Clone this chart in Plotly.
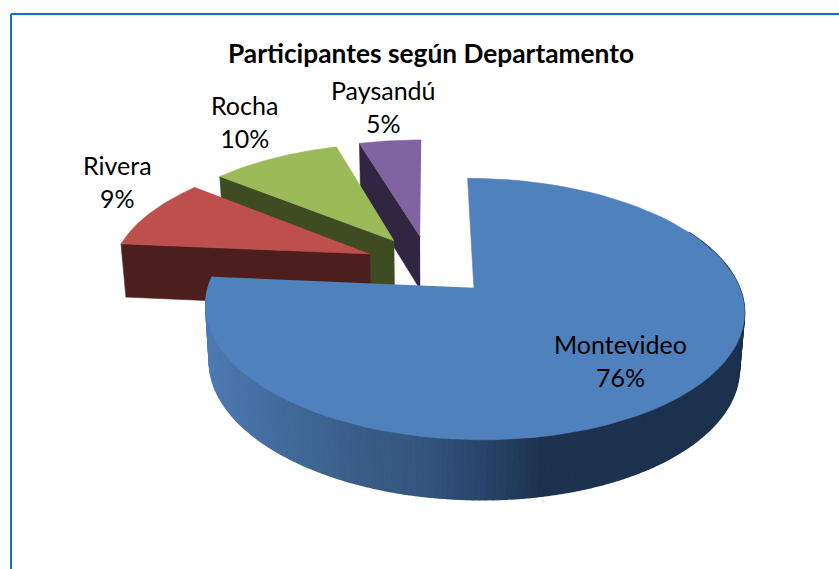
import numpy as np
import plotly.graph_objects as go

title_text = "Participantes según Departamento"
departments = ["Montevideo", "Rivera", "Rocha", "Paysandú"]
shares = [76.4, 9.4, 9.6, 4.6]
top_colors = ["#4F81BD", "#BD4F4C", "#9BBB59", "#8064A2"]
wall_colors = ["#1E3350", "#4C1F1E", "#3F4C22", "#312642"]
label_xy = [(620, 360), (117, 181), (244, 121), (383, 106)]

CX, CY, RX, RY, K, EXPLODE, DEPTH, CONVERGE = 429, 265, 258, 120, 0.158, 0.25, 54, 0.016
grad_x = [208, 280, 340, 420, 480, 540, 745]
grad_rgb = [(78, 122, 178), (66, 108, 156), (60, 96, 140), (52, 86, 126), (42, 70, 108), (30, 51, 80), (28, 49, 78)]


def project(wx, wy, low=False):
    s = 1 / (1 - K * wy)
    x = CX + RX * wx * s
    y = CY + RY * wy * s
    if low:
        x = CX + (x - CX) * (1 - CONVERGE)
        y = y + DEPTH * np.sqrt(s)
    return x, y


def world_rim(a0, a1, mid, n=80):
    t = np.radians(np.linspace(a0, a1, n))
    m = np.radians(mid)
    return np.sin(t) + EXPLODE * np.sin(m), -np.cos(t) - EXPLODE * np.cos(m)


def poly(fig, xs, ys, color, lw=0.6):
    fig.add_trace(go.Scatter(x=xs, y=ys, mode="lines", fill="toself", fillcolor=color,
                             line=dict(color=color, width=lw), hoverinfo="skip", showlegend=False))


fig = go.Figure()
total = sum(shares)
edges = np.concatenate([[0], np.cumsum(shares)]) * 360 / total
order = [3, 2, 1, 0]

for i in order:
    a0, a1 = edges[i], edges[i + 1]
    mid = (a0 + a1) / 2
    ax, ay = EXPLODE * np.sin(np.radians(mid)), -EXPLODE * np.cos(np.radians(mid))
    wx, wy = world_rim(a0, a1, mid)
    if i > 0:
        # visible cut face: the radial edge at the slice's starting angle
        ex, ey = world_rim(a0, a0, mid, 2)
        wall_w = np.array([ax, ex[0]])
        wall_h = np.array([ay, ey[0]])
        tx, ty = project(wall_w, wall_h)
        bx, by = project(wall_w, wall_h, low=True)
        poly(fig, list(tx) + list(bx[::-1]), list(ty) + list(by[::-1]), wall_colors[i])
    else:
        # curved outer wall shaded left to right
        vis0, vis1 = 62, a1
        steps = np.linspace(vis0, vis1, 181)
        for s0, s1 in zip(steps[:-1], steps[1:]):
            qx, qy = world_rim(s0, s1, mid, 4)
            tx, ty = project(qx, qy)
            bx, by = project(qx, qy, low=True)
            mx = float(np.mean(tx))
            rgb = [np.interp(mx, grad_x, [c[j] for c in grad_rgb]) for j in range(3)]
            col = "rgb(%d,%d,%d)" % tuple(rgb)
            poly(fig, list(tx) + list(bx[::-1]), list(ty) + list(by[::-1]), col, lw=1.5)
    px, py = project(np.concatenate([[ax], wx]), np.concatenate([[ay], wy]))
    poly(fig, list(px), list(py), top_colors[i])

annotations = [dict(x=431, y=53, text="<b>%s</b>" % title_text, showarrow=False,
                    font=dict(family="Lato", size=26.3, color="#000000"))]
for name, share, (lx, ly) in zip(departments, shares, label_xy):
    annotations.append(dict(x=lx, y=ly, text="%s<br>%d%%" % (name, round(share)), showarrow=False,
                            font=dict(family="Lato", size=25, color="#000000")))

shapes = [
    dict(type="line", x0=11, x1=839, y0=14, y1=14, line=dict(color="#0F77C0", width=2)),
    dict(type="line", x0=11, x1=11, y0=14, y1=569, line=dict(color="#0F77C0", width=2)),
]

fig.update_layout(
    width=839, height=569, margin=dict(l=0, r=0, t=0, b=0),
    paper_bgcolor="#ffffff", plot_bgcolor="#ffffff", showlegend=False,
    xaxis=dict(range=[0, 839], visible=False, fixedrange=True),
    yaxis=dict(range=[569, 0], visible=False, fixedrange=True),
    annotations=annotations, shapes=shapes,
)
fig.write_html("out.html", config={"displayModeBar": False},
               post_script="document.body.style.margin='0';")
